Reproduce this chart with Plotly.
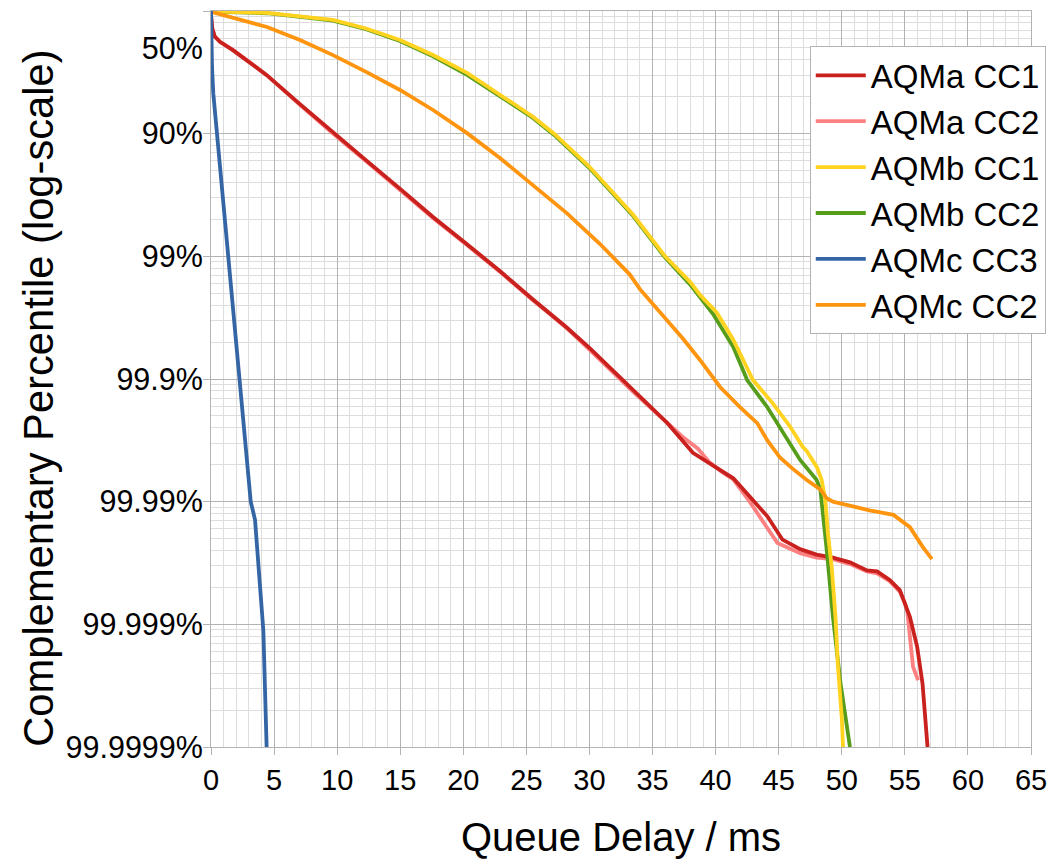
import plotly.graph_objects as go

# ---- data (x = queue delay in ms, y = complementary fraction 1 - p) ----
aqma_cc1_x = [0, 0.1, 0.3, 0.71, 1.74, 4.42, 7.05, 9.67, 12.35, 15.0, 17.6, 20.27, 22.9, 25.5, 28.2,
              30.04, 33.45, 36.15, 38.2, 40.1, 41.4, 42.7, 44.1, 45.3, 46.7, 48.0, 49.3, 50.65, 52.0,
              52.8, 53.8, 54.6, 55.0, 55.4, 55.97, 56.4, 56.8]
aqma_cc1_y = [0.93, 0.72, 0.62, 0.56, 0.48, 0.30, 0.174, 0.102, 0.060, 0.0355, 0.0209, 0.0126, 0.0076,
              0.00447, 0.00263, 0.00178, 0.00081, 0.00044, 0.00025, 0.000186, 0.000155, 0.00011,
              7.6e-5, 4.9e-5, 4.1e-5, 3.7e-5, 3.5e-5, 3.2e-5, 2.75e-5, 2.7e-5, 2.3e-5, 1.9e-5,
              1.48e-5, 1.15e-5, 6.6e-6, 3.3e-6, 1.0e-6]

aqma_cc2_x = [0, 0.1, 0.3, 0.71, 1.74, 4.42, 7.05, 9.67, 12.35, 15.0, 17.6, 20.27, 22.9, 25.5, 28.2,
              30.04, 33.45, 36.15, 37.5, 38.6, 39.5, 40.5, 41.4, 42.7, 44.9, 46.7, 48.0, 49.3, 50.65,
              52.0, 52.8, 53.8, 54.6, 55.0, 55.2, 55.65, 56.05]
aqma_cc2_y = [0.93, 0.72, 0.62, 0.56, 0.48, 0.30, 0.172, 0.100, 0.059, 0.0348, 0.0205, 0.0124, 0.0075,
              0.0044, 0.0026, 0.00172, 0.00079, 0.00044, 0.00033, 0.00027, 0.00021, 0.000175,
              0.000152, 1.0e-4, 4.6e-5, 3.8e-5, 3.5e-5, 3.4e-5, 3.1e-5, 2.7e-5, 2.6e-5, 2.25e-5,
              1.85e-5, 1.5e-5, 1.26e-5, 4.5e-6, 3.5e-6]

aqmb_cc1_x = [0, 4.44, 9.67, 12.3, 14.98, 17.6, 20.3, 22.9, 25.5, 27.2, 30.0, 33.45, 36.0, 37.97,
              38.8, 40.1, 41.4, 42.96, 44.55, 45.9, 46.9, 47.2, 48.04, 48.4, 48.7, 48.9, 49.2, 49.5,
              49.7, 50.0, 50.1]
aqmb_cc1_y = [0.993, 0.964, 0.845, 0.72, 0.581, 0.438, 0.313, 0.207, 0.138, 0.1, 0.0537, 0.0219, 0.01,
              0.0062, 0.0048, 0.00347, 0.00209, 0.00098, 0.00063, 0.00041, 0.00028, 0.00026,
              0.00019, 0.000151, 0.000102, 5.5e-5, 2.95e-5, 1.15e-5, 4.5e-6, 1.74e-6, 1.0e-6]

aqmb_cc2_x = [0, 4.44, 9.67, 12.3, 14.98, 17.6, 20.3, 22.9, 25.5, 27.2, 30.0, 33.45, 36.0, 37.97,
              39.8, 41.4, 42.5, 44.1, 45.1, 46.7, 48.0, 48.3, 48.8, 49.3, 49.9, 50.65]
aqmb_cc2_y = [0.991, 0.959, 0.836, 0.71, 0.569, 0.427, 0.302, 0.2, 0.135, 0.0977, 0.0525, 0.0214,
              0.00977, 0.0059, 0.00339, 0.00182, 0.00098, 0.000589, 0.000407, 0.000219, 0.000151,
              0.000126, 4.1e-5, 1.15e-5, 3.3e-6, 1.0e-6]

aqmc_cc3_x = [0, 0.02, 0.08, 0.18, 0.71, 1.24, 1.74, 2.3, 2.96, 3.15, 3.49, 3.88, 4.15, 4.41]
aqmc_cc3_y = [1.0, 0.63, 0.35, 0.214, 0.0537, 0.0155, 0.00437, 0.001, 0.000151, 0.0001, 7.1e-5,
              2.3e-5, 8.9e-6, 1.0e-6]

aqmc_cc2_x = [0, 1.74, 4.44, 7.05, 9.67, 12.37, 14.98, 17.6, 20.3, 22.9, 25.5, 28.2, 30.84,
              33.2, 34.0, 36.15, 37.4, 38.76, 40.35, 41.93, 43.3, 44.1, 45.1, 46.1, 47.2, 48.3, 48.8,
              49.3, 50.9, 52.2, 54.1, 54.85, 55.4, 56.4, 57.0, 57.15]
aqmc_cc2_y = [0.986, 0.877, 0.741, 0.581, 0.437, 0.316, 0.227, 0.156, 0.101, 0.0634, 0.0382, 0.0225,
              0.0126, 0.0071, 0.0054, 0.0030, 0.00214, 0.00143, 0.000861, 0.000589,
              0.000437, 0.000316, 0.000229, 0.000186, 0.000151, 0.000126, 0.000107, 0.0001, 9.1e-5,
              8.5e-5, 7.8e-5, 6.8e-5, 6.2e-5, 4.3e-5, 3.5e-5, 3.4e-5]

y_tick_vals = [1, 0.1, 0.01, 0.001, 0.0001, 0.00001, 0.000001]
y_tick_text = ["", "90%", "99%", "99.9%", "99.99%", "99.999%", "99.9999%"]
y_half_val = [0.5]
y_half_text = ["50%"]
y_minor_vals = [m * 10.0 ** -k for k in range(1, 7) for m in range(2, 10)]

FONT = "Liberation Sans, Arial, sans-serif"
MAJOR = "#b3b3b3"
MINOR = "#dddddd"

series = [
    # (name, x, y, color, legendrank) in drawing order
    ("AQMa CC2", aqma_cc2_x, aqma_cc2_y, "#ff8080", 2),
    ("AQMa CC1", aqma_cc1_x, aqma_cc1_y, "#c9211e", 1),
    ("AQMb CC2", aqmb_cc2_x, aqmb_cc2_y, "#579d1c", 4),
    ("AQMb CC1", aqmb_cc1_x, aqmb_cc1_y, "#ffd320", 3),
    ("AQMc CC2", aqmc_cc2_x, aqmc_cc2_y, "#ff950e", 6),
    ("AQMc CC3", aqmc_cc3_x, aqmc_cc3_y, "#3465a4", 5),
]

fig = go.Figure()
for name, xs, ys, col, rank in series:
    fig.add_trace(go.Scatter(x=xs, y=ys, mode="lines", name=name, legendrank=rank,
                             line=dict(color=col, width=3.8)))

# invisible helper trace on the overlay axis carrying the 50% label
fig.add_trace(go.Scatter(x=[None], y=[None], yaxis="y2", showlegend=False, hoverinfo="skip"))

fig.update_layout(
    width=1051, height=859,
    margin=dict(l=211, r=20, t=11, b=112, pad=0, autoexpand=False),
    paper_bgcolor="white", plot_bgcolor="white",
    font=dict(family=FONT, color="black"),
    showlegend=True,
    legend=dict(x=1.018, xanchor="right", y=0.952, yanchor="top",
                bgcolor="white", bordercolor=MAJOR, borderwidth=1,
                font=dict(size=33, family=FONT, color="black"),
                itemwidth=50, tracegroupgap=0),
    xaxis=dict(range=[0, 65], tickmode="linear", tick0=0, dtick=5,
               ticks="outside", ticklen=7, tickcolor=MAJOR, tickwidth=1,
               showgrid=True, gridcolor=MAJOR, gridwidth=1,
               minor=dict(dtick=1, tick0=0, showgrid=True, gridcolor=MINOR, gridwidth=1, ticks=""),
               showline=True, linecolor=MAJOR, linewidth=1, mirror=True, zeroline=False,
               tickfont=dict(size=29, family=FONT, color="black"),
               title=dict(text="Queue Delay / ms", font=dict(size=40, family=FONT, color="black"),
                          standoff=31)),
    yaxis=dict(type="log", range=[-6, 0], tickmode="array",
               tickvals=y_tick_vals, ticktext=y_tick_text,
               ticks="outside", ticklen=7, tickcolor=MAJOR, tickwidth=1,
               ticklabelstandoff=-6,
               showgrid=True, gridcolor=MAJOR, gridwidth=1,
               minor=dict(tickmode="array", tickvals=y_minor_vals, showgrid=True,
                          gridcolor=MINOR, gridwidth=1, ticks=""),
               showline=True, linecolor=MAJOR, linewidth=1, mirror=True, zeroline=False,
               tickfont=dict(size=30.5, family=FONT, color="black")),
    yaxis2=dict(type="log", range=[-6, 0], overlaying="y", side="left", tickmode="array",
                tickvals=y_half_val, ticktext=y_half_text,
                ticks="outside", ticklen=7, tickcolor="rgba(0,0,0,0)",
                ticklabelstandoff=-6,
                showgrid=False, showline=False, zeroline=False,
                tickfont=dict(size=30.5, family=FONT, color="black")),
    annotations=[dict(text="Complementary Percentile (log-scale)", textangle=-90,
                      xref="paper", yref="paper", x=-0.2098, y=0.4745,
                      xanchor="center", yanchor="middle", showarrow=False,
                      font=dict(size=41.7, family=FONT, color="black"))],
)

fig.write_html("out.html")
